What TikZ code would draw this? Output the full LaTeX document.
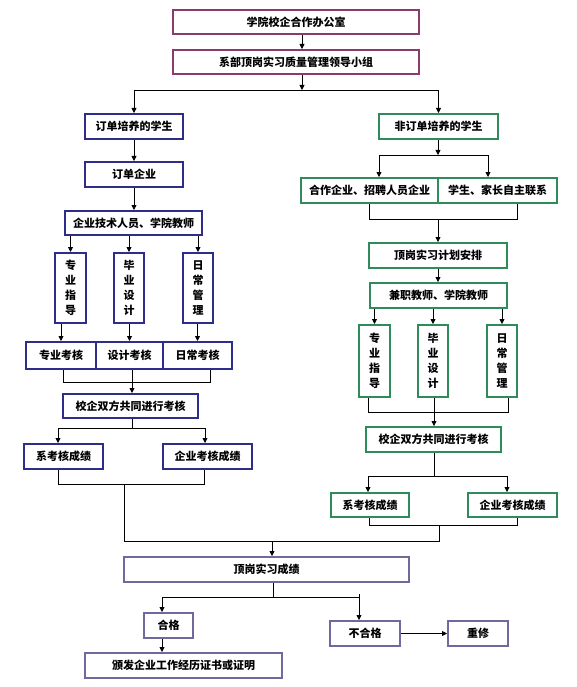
\documentclass[tikz,border=0pt]{standalone}
\usepackage{fontspec}
\setmainfont{Noto Sans CJK SC}
\usetikzlibrary{arrows.meta, calc}
\definecolor{officeplum}{RGB}{139,58,106}
\definecolor{orderblue}{RGB}{46,46,138}
\definecolor{freegreen}{RGB}{46,139,90}
\definecolor{scoregray}{RGB}{110,106,158}

\begin{document}
\begin{tikzpicture}[
    x=1pt, y=-1pt,
    font=\fontsize{11}{15}\selectfont\bfseries,
    box/.style={rectangle, draw, line width=2pt, fill=white, inner sep=0pt,
                align=center, minimum height=24pt},
    officebox/.style={box, draw=officeplum},
    ordbox/.style={box, draw=orderblue},
    freebox/.style={box, draw=freegreen},
    scorebox/.style={box, draw=scoregray},
    arr/.style={-{Triangle[length=5pt, width=5pt]}, line width=0.8pt},
    lnk/.style={line width=0.8pt}
]
\useasboundingbox (0,0) rectangle (576,687);

% Top: office and leading group
\node[officebox, minimum width=246pt] (office) at (296,22) {学院校企合作办公室};
\node[officebox, minimum width=246pt] (group) at (296,62) {系部顶岗实习质量管理领导小组};

% Left column: order-trained students
\node[ordbox, minimum width=98pt, minimum height=25pt] (ordstu) at (134,126.5) {订单培养的学生};
\node[ordbox, minimum width=98pt, minimum height=25pt] (ordent) at (134,174.5) {订单企业};
\node[ordbox, minimum width=137pt] (tech) at (133.5,223) {企业技术人员、学院教师};
\node[ordbox, minimum width=31pt, minimum height=70pt] (lguide) at (70.5,288) {专\\业\\指\\导};
\node[ordbox, minimum width=30pt, minimum height=70pt] (ldesign) at (129,288) {毕\\业\\设\\计};
\node[ordbox, minimum width=30pt, minimum height=70pt] (lmanage) at (198,288) {日\\常\\管\\理};
\node[ordbox, minimum width=70pt, minimum height=27pt] (lexam1) at (61,355.5) {专业考核};
\node[ordbox, minimum width=67pt, minimum height=27pt] (lexam2) at (129.5,355.5) {设计考核};
\node[ordbox, minimum width=69pt, minimum height=27pt] (lexam3) at (197.5,355.5) {日常考核};
\node[ordbox, minimum width=135pt] (ljoint) at (130.5,406) {校企双方共同进行考核};
\node[ordbox, minimum width=79pt, minimum height=25pt] (ldept) at (63.5,456.5) {系考核成绩};
\node[ordbox, minimum width=89pt, minimum height=25pt] (lent) at (207.5,456.5) {企业考核成绩};

% Right column: other students
\node[freebox, minimum width=119pt, minimum height=25pt] (nonstu) at (438.5,126.5) {非订单培养的学生};
\node[freebox, minimum width=137pt, minimum height=25pt] (coop) at (369.5,190.5) {合作企业、招聘人员企业};
\node[freebox, minimum width=119pt, minimum height=25pt] (self) at (497.5,190.5) {学生、家长自主联系};
\node[freebox, minimum width=138pt, minimum height=25pt] (plan) at (438,255.5) {顶岗实习计划安排};
\node[freebox, minimum width=137pt, minimum height=25pt] (parttime) at (438.5,295.5) {兼职教师、学院教师};
\node[freebox, minimum width=31pt, minimum height=72pt] (rguide) at (374.5,361) {专\\业\\指\\导};
\node[freebox, minimum width=30pt, minimum height=72pt] (rdesign) at (433,361) {毕\\业\\设\\计};
\node[freebox, minimum width=30pt, minimum height=72pt] (rmanage) at (502,361) {日\\常\\管\\理};
\node[freebox, minimum width=135pt, minimum height=25pt] (rjoint) at (433.5,439.5) {校企双方共同进行考核};
\node[freebox, minimum width=78pt] (rdept) at (370,505) {系考核成绩};
\node[freebox, minimum width=89pt] (rent) at (512.5,505) {企业考核成绩};

% Bottom: final score
\node[scorebox, minimum width=285pt, minimum height=25pt] (score) at (266.5,569.5) {顶岗实习成绩};
\node[scorebox, minimum width=49pt, minimum height=25pt] (pass) at (168.5,625.5) {合格};
\node[scorebox, minimum width=197pt, minimum height=25pt] (cert) at (183.5,665.5) {颁发企业工作经历证书或证明};
\node[scorebox, minimum width=70pt, minimum height=25pt] (fail) at (365,633.5) {不合格};
\node[scorebox, minimum width=60pt, minimum height=25pt] (redo) at (478,633.5) {重修};

% Junction points
\coordinate (topsplit) at (302,90);
\coordinate (la) at (63,382);   \coordinate (lm) at (132,382);  \coordinate (lb) at (210,382);
\coordinate (lsplit) at (132,428); \coordinate (lj1) at (58,428); \coordinate (lj2) at (205,428);
\coordinate (lb1) at (58,484);  \coordinate (lbm) at (124,484); \coordinate (lb2) at (204,484);
\coordinate (rs) at (438,155);  \coordinate (rs1) at (379,155); \coordinate (rs2) at (488,155);
\coordinate (rm) at (438,219);  \coordinate (rm1) at (369,219); \coordinate (rm2) at (517,219);
\coordinate (rj) at (434,412);  \coordinate (rj1) at (368,412); \coordinate (rj2) at (508,412);
\coordinate (rsp) at (434,476); \coordinate (rsp1) at (368,476); \coordinate (rsp2) at (507,476);
\coordinate (rb1) at (369,525); \coordinate (rbm) at (439,525); \coordinate (rb2) at (517,525);
\coordinate (merge) at (124,541); \coordinate (merge2) at (439,541); \coordinate (sc) at (272,541);
\coordinate (ss) at (273,597);  \coordinate (ss1) at (162,597); \coordinate (ss2) at (359,597);

% Top connectors
\draw[arr] (office.south -| topsplit) -- (group.north -| topsplit);
\draw[arr] (group.south -| topsplit) -- (topsplit);
\draw[arr] (topsplit) -| (ordstu.north);
\draw[arr] (topsplit) -| (nonstu.north);

% Left connectors
\draw[arr] (ordstu.south) -- (ordent.north);
\draw[arr] (ordent.south) -- (ordent.south |- tech.north);
\foreach \v in {lguide, ldesign, lmanage}
  \draw[arr] (\v.north |- tech.south) -- (\v.north);
\draw[arr] (lexam1.north |- lguide.south) -- (lexam1.north);
\draw[arr] (lexam2.north |- ldesign.south) -- (lexam2.north);
\draw[arr] (lexam3.north |- lmanage.south) -- (lexam3.north);
\draw[lnk] (lexam1.south -| la) -- (la) -- (lb) -- (lexam3.south -| lb);
\draw[arr] (lexam2.south -| lm) -- (ljoint.north -| lm);
\draw[lnk] (ljoint.south -| lsplit) -- (lsplit);
\draw[lnk] (lj1) -- (lj2);
\draw[arr] (lj1) -- (lj1 |- ldept.north);
\draw[arr] (lj2) -- (lj2 |- lent.north);
\draw[lnk] (ldept.south -| lb1) -- (lb1) -- (lb2) -- (lent.south -| lb2);

% Right connectors
\draw[arr] (nonstu.south -| rs) -- (rs);
\draw[lnk] (rs1) -- (rs2);
\draw[arr] (rs1) -- (rs1 |- coop.north);
\draw[arr] (rs2) -- (rs2 |- self.north);
\draw[lnk] (coop.south -| rm1) -- (rm1) -- (rm2) -- (self.south -| rm2);
\draw[arr] (rm) -- (plan.north -| rm);
\draw[arr] (plan.south -| rm) -- (parttime.north -| rm);
\foreach \v in {rguide, rdesign, rmanage}
  \draw[arr] (\v.north |- parttime.south) -- (\v.north);
\draw[lnk] (rguide.south -| rj1) -- (rj1) -- (rj2) -- (rmanage.south -| rj2);
\draw[arr] (rdesign.south -| rj) -- (rjoint.north -| rj);
\draw[lnk] (rjoint.south -| rsp) -- (rsp);
\draw[lnk] (rsp1) -- (rsp2);
\draw[arr] (rsp1) -- (rsp1 |- rdept.north);
\draw[arr] (rsp2) -- (rsp2 |- rent.north);
\draw[lnk] (rdept.south -| rb1) -- (rb1) -- (rb2) -- (rent.south -| rb2);

% Merge into the final score
\draw[lnk] (lbm) -- (merge) -- (merge2) -- (rbm);
\draw[arr] (sc) -- (score.north -| sc);
\draw[lnk] (score.south -| ss) -- (ss);
\draw[lnk] (ss1) -- (ss2);
\draw[arr] (ss1) -- (ss1 |- pass.north);
\draw[arr] ($(ss2)+(0,-3)$) -- (ss2 |- fail.north);
\draw[arr] (pass.south -| ss1) -- (cert.north -| ss1);
\draw[arr] (fail.east) -- (redo.west);
\end{tikzpicture}
\end{document}
